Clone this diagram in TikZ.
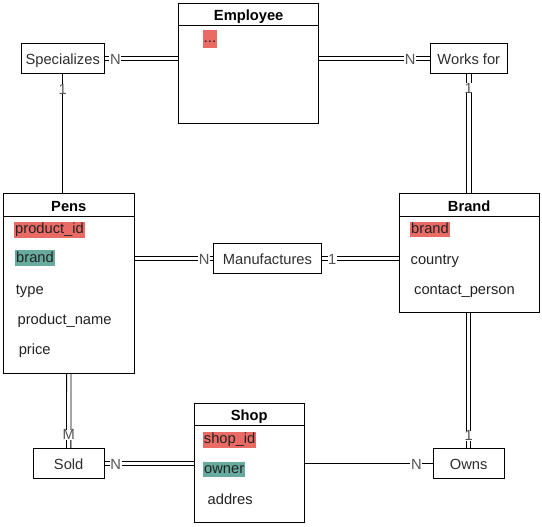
\documentclass[tikz,border=0pt]{standalone}
\usepackage{fontspec}
\setmainfont{Liberation Sans}
\usetikzlibrary{backgrounds}
\definecolor{keyred}{HTML}{EA6B66}
\definecolor{keyteal}{HTML}{67AB9F}
\definecolor{txtc}{HTML}{222222}
\definecolor{relc}{HTML}{2E2E2E}
\definecolor{lblc}{HTML}{555555}
\tikzset{
  fnt/.style={font=\fontsize{14.7pt}{17pt}\selectfont},
  entity/.style={draw=black, line width=0.9pt, fill=white, inner sep=0pt},
  relbox/.style={draw=black, line width=0.9pt, fill=white, inner sep=0pt, fnt, text=relc, text height=14pt, text depth=2.5pt},
  etitle/.style={fnt, font=\fontsize{14.7pt}{17pt}\selectfont\bfseries, text=black, inner sep=0pt},
  attr/.style={fnt, anchor=west, text=txtc, inner xsep=1pt, inner ysep=0.6pt, text height=11pt, text depth=3.6pt},
  pk/.style={attr, fill=keyred},
  fk/.style={attr, fill=keyteal},
  dblh/.style={draw=none,
    preaction={draw=black, line width=0.85pt, transform canvas={yshift=2.2pt}},
    postaction={draw=black, line width=0.85pt, transform canvas={yshift=-2.2pt}}},
  dblv/.style={draw=none,
    preaction={draw=black, line width=0.85pt, transform canvas={xshift=2.2pt}},
    postaction={draw=black, line width=0.85pt, transform canvas={xshift=-2.2pt}}},
  sgl/.style={draw=black, line width=0.9pt},
  lbl/.style={fnt, text=lblc, fill=white, inner xsep=0.6pt, inner ysep=0pt, yshift=-1.5pt},
}
\begin{document}
\begin{tikzpicture}[x=1pt, y=-1pt]
\useasboundingbox (0,0) rectangle (542,527);
% entities
\node[entity, minimum width=140pt, minimum height=119.5pt] (emp) at (248.7,63.25) {};
\node[entity, minimum width=131pt, minimum height=180pt] (pens) at (68.8,283.3) {};
\node[entity, minimum width=140.3pt, minimum height=119.4pt] (brand) at (469.2,253) {};
\node[entity, minimum width=110.3pt, minimum height=119.4pt] (shop) at (249.2,463) {};
% header lines
\draw[line width=0.9pt] ([yshift=-22.5pt]emp.north west) -- ([yshift=-22.5pt]emp.north east);
\draw[line width=0.9pt] ([yshift=-23.4pt]pens.north west) -- ([yshift=-23.4pt]pens.north east);
\draw[line width=0.9pt] ([yshift=-23.4pt]brand.north west) -- ([yshift=-23.4pt]brand.north east);
\draw[line width=0.9pt] ([yshift=-22.7pt]shop.north west) -- ([yshift=-22.7pt]shop.north east);
% titles
\node[etitle] (empt) at ([yshift=-13.4pt]emp.north) {Employee};
\node[etitle] (penst) at ([yshift=-13.6pt]pens.north) {Pens};
\node[etitle] (brandt) at ([yshift=-13.6pt]brand.north) {Brand};
\node[etitle] (shopt) at ([yshift=-13.4pt]shop.north) {Shop};
% attributes
\node[pk, inner ysep=1.6pt] (e1) at (202.7,38.8) {...};
\node[pk] (p1) at (14,229.8) {product\_id};
\node[fk] (p2) at (15,258.3) {brand};
\node[attr] (p3) at (14.7,291) {type};
\node[attr] (p4) at (16.4,321) {product\_name};
\node[attr] (p5) at (17.6,351) {price};
\node[pk] (b1) at (410,229.5) {brand};
\node[attr] (b2) at (409.5,261) {country};
\node[attr] (b3) at (413,291) {contact\_person};
\node[pk] (s1) at (202.7,439.7) {shop\_id};
\node[fk] (s2) at (203,469.5) {owner};
\node[attr] (s3) at (206.5,501) {addres};
% relationships
\node[relbox, minimum width=82.7pt, minimum height=30pt] (spec) at (62.7,58.3) {Specializes};
\node[relbox, minimum width=77.7pt, minimum height=30pt] (works) at (468.8,58.3) {Works for};
\node[relbox, minimum width=108.4pt, minimum height=30pt] (manu) at (267.5,258.3) {Manufactures};
\node[relbox, minimum width=70.7pt, minimum height=30pt] (sold) at (68.7,463.3) {Sold};
\node[relbox, minimum width=70.7pt, minimum height=30pt] (owns) at (468.7,463.3) {Owns};
% connectors
\begin{scope}[on background layer]
\path[dblh] (spec.east) -- (spec.east -| emp.west) node[lbl, pos=0.147] (l1) {N};
\path[dblh] (emp.east |- works.west) -- (works.west) node[lbl, pos=0.824] (l2) {N};
\draw[sgl] (spec.south) -- (spec.south |- pens.north) node[lbl, pos=0.118] (l3) {1};
\path[dblv] (works.south) -- (works.south |- brand.north) node[lbl, pos=0.11] (l4) {1};
\path[dblh] (pens.east |- manu.west) -- (manu.west) node[lbl, pos=0.889] (l5) {N};
\path[dblh] (manu.east) -- (manu.east -| brand.west) node[lbl, pos=0.133] (l6) {1};
\path[dblv] (pens.south) -- (sold.north) node[lbl, pos=0.803] (l7) {M};
\path[dblh] (sold.east) -- (sold.east -| shop.west) node[lbl, pos=0.126] (l8) {N};
\draw[sgl] (shop.east |- owns.west) -- (owns.west) node[lbl, pos=0.871] (l9) {N};
\path[dblv] (owns.north |- brand.south) -- (owns.north) node[lbl, pos=0.898] (l10) {1};
\end{scope}
\end{tikzpicture}
\end{document}
